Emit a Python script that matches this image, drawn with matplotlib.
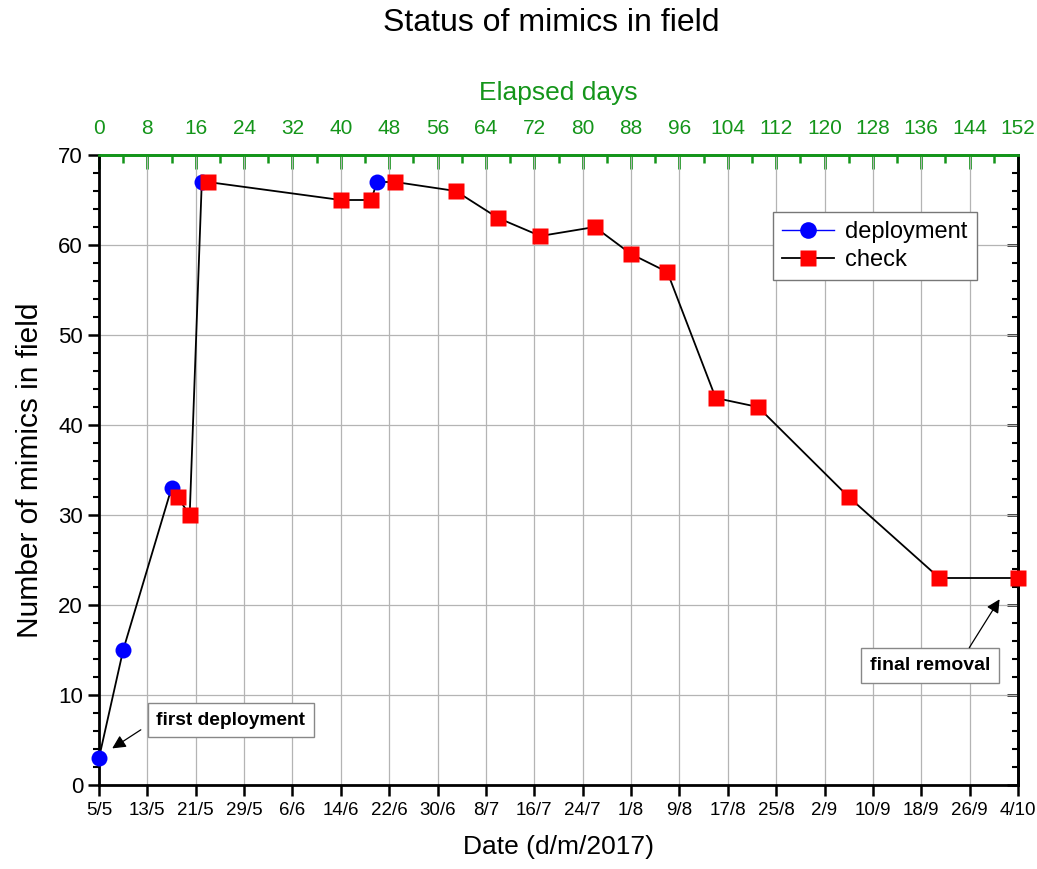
import matplotlib
matplotlib.use("Agg")
import matplotlib.pyplot as plt
from matplotlib.lines import Line2D
from matplotlib.ticker import MultipleLocator, FixedLocator
from matplotlib import font_manager

plt.rcParams['font.family'] = ['Liberation Sans', 'DejaVu Sans']

# ---- data ----
deploy_days = [0, 4, 12, 17, 46]
deploy_counts = [3, 15, 33, 67, 67]
check_days = [13, 15, 18, 40, 45, 49, 59, 66, 73, 82, 88, 94, 102, 109, 124, 139, 152]
check_counts = [32, 30, 67, 65, 65, 67, 66, 63, 61, 62, 59, 57, 43, 42, 32, 23, 23]
date_labels = ['5/5', '13/5', '21/5', '29/5', '6/6', '14/6', '22/6', '30/6', '8/7',
               '16/7', '24/7', '1/8', '9/8', '17/8', '25/8', '2/9', '10/9', '18/9',
               '26/9', '4/10']
elapsed_ticks = list(range(0, 153, 8))

green = '#14951a'

names = {f.name for f in font_manager.fontManager.ttflist}
narrow = 'Liberation Sans Narrow' if 'Liberation Sans Narrow' in names else 'Liberation Sans'

fig = plt.figure(figsize=(10.37, 8.69), dpi=100)
ax = fig.add_axes([99/1037, 1-785/869, (1018-99)/1037, (785-155)/869])

# combined line in chronological order
pts = sorted(zip(deploy_days + check_days, deploy_counts + check_counts))
ax.plot([p[0] for p in pts], [p[1] for p in pts], color='black', lw=1.3, zorder=3)
ax.plot(deploy_days, deploy_counts, 'o', color='#0000ff', ms=11.5, mec='none', zorder=4, clip_on=False)
ax.plot(check_days, check_counts, 's', color='#ff0000', ms=11, mec='none', zorder=4, clip_on=False)

ax.set_xlim(0, 152)
ax.set_ylim(0, 70)
ax.xaxis.set_major_locator(FixedLocator(elapsed_ticks))
ax.set_xticklabels(date_labels, fontsize=13.5)
ax.yaxis.set_major_locator(MultipleLocator(10))
ax.yaxis.set_minor_locator(MultipleLocator(2))
ax.tick_params(axis='x', which='major', direction='out', length=8, width=1.8, pad=4, top=False)
ax.tick_params(axis='y', which='major', direction='out', length=8, width=1.8, labelsize=16, right=False)
ax.tick_params(axis='y', which='minor', direction='out', length=4.5, width=1.5, right=False)
ax.grid(True, which='major', color='#b4b4b4', lw=0.9)
ax.set_axisbelow(True)

for s in ['left', 'bottom', 'right']:
    ax.spines[s].set_linewidth(2)
    ax.spines[s].set_color('black')
ax.spines['top'].set_color(green)
ax.spines['top'].set_linewidth(2)

# right side ticks (inward)
axr = ax.secondary_yaxis('right')
axr.yaxis.set_major_locator(MultipleLocator(10))
axr.yaxis.set_minor_locator(MultipleLocator(2))
axr.tick_params(which='major', direction='in', length=8, width=1.8, labelright=False)
axr.tick_params(which='minor', direction='in', length=4.5, width=1.5)
axr.spines['right'].set_linewidth(2)

# top elapsed days axis
axt = ax.secondary_xaxis('top')
axt.xaxis.set_major_locator(FixedLocator(elapsed_ticks))
axt.xaxis.set_minor_locator(MultipleLocator(4))
axt.tick_params(which='major', direction='in', length=10, width=2, color=green,
                labelcolor=green, labelsize=15, pad=12)
axt.tick_params(which='minor', direction='in', length=6, width=1.8, color=green)
for lab in axt.get_xticklabels():
    lab.set_family([narrow, 'DejaVu Sans'])
axt.spines['top'].set_color(green)
axt.spines['top'].set_linewidth(2)
axt.set_xlabel('Elapsed days', color=green, fontsize=19, labelpad=14)

ax.set_xlabel('Date (d/m/2017)', fontsize=19, labelpad=12)
ax.set_ylabel('Number of mimics in field', fontsize=21.5, labelpad=10)
fig.text(0.532, 0.974, 'Status of mimics in field', ha='center', va='center', fontsize=23)

handles = [Line2D([], [], color='#0000ff', lw=1, marker='o', ms=12, mec='none'),
           Line2D([], [], color='black', lw=1.3, marker='s', ms=11.5, mfc='#ff0000', mec='none')]
leg = ax.legend(handles, ['deployment', 'check'], loc='upper right', bbox_to_anchor=(0.955, 0.91),
                borderaxespad=0, fontsize=17, fancybox=False, edgecolor='#777777', framealpha=1,
                handlelength=2.2, borderpad=0.4, labelspacing=0.25, handletextpad=0.45)
leg.get_frame().set_linewidth(1)

box = dict(boxstyle='square,pad=0.45', fc='white', ec='#888888', lw=1)
ax.text(21.8, 7.2, 'first deployment', fontsize=13.8, fontweight='bold', ha='center', va='center', bbox=box, zorder=6)
ax.annotate('', xy=(1.8, 3.9), xytext=(7.3, 6.3),
            arrowprops=dict(arrowstyle='-|>', color='black', lw=0.9, mutation_scale=20), zorder=6)
ax.text(137.4, 13.3, 'final removal', fontsize=14, fontweight='bold', ha='center', va='center', bbox=box, zorder=6)
ax.annotate('', xy=(149.2, 20.9), xytext=(143.7, 15.0),
            arrowprops=dict(arrowstyle='-|>', color='black', lw=0.9, mutation_scale=20), zorder=6)

fig.savefig('out.png', dpi=100)
